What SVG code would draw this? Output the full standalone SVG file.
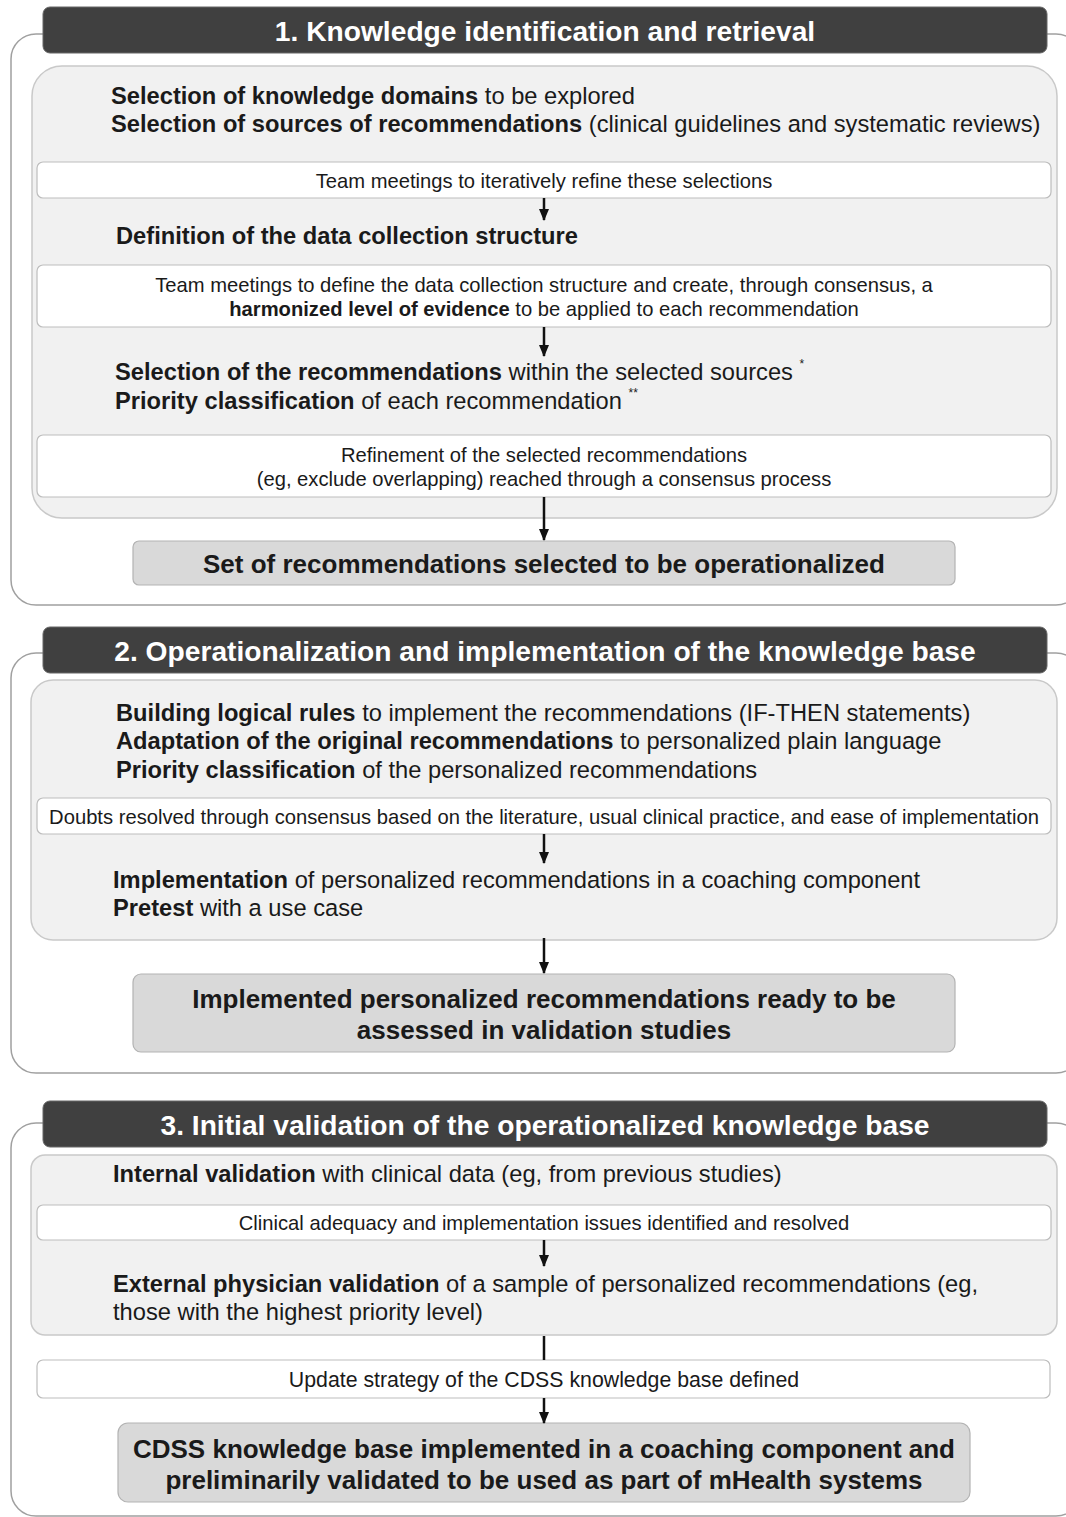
<svg xmlns="http://www.w3.org/2000/svg" width="1066" height="1517" viewBox="0 0 1066 1517">
<defs>
<marker id="ah" markerWidth="12" markerHeight="10" refX="11" refY="5" orient="auto" markerUnits="userSpaceOnUse" viewBox="0 0 12 10">
<path d="M0,0 L12,5 L0,10 Z" fill="#111"/>
</marker>
<style>
text{font-family:"Liberation Sans",Arial,sans-serif;fill:#1a1a1a}
.outer{fill:none;stroke:#a0a0a0;stroke-width:1.5}
.hdr{fill:#404040;stroke:#666;stroke-width:1}
.hdrt{fill:#fff;font-size:28.2px;font-weight:bold;text-anchor:middle}
.panel{fill:#f1f1f1;stroke:#c9c9c9;stroke-width:1.5}
.wbox{fill:#fff;stroke:#bdbdbd;stroke-width:1.2}
.wt{font-size:20.2px;text-anchor:middle}
.body{font-size:23.7px}
.b{font-weight:bold}
.res{fill:#d9d9d9;stroke:#b3b3b3;stroke-width:1.2}
.rt{font-size:26px;font-weight:bold;text-anchor:middle}
.sup{font-size:12px}
.arr{stroke:#111;stroke-width:2.5;fill:none}
</style>
</defs>

<g id="section1">
<rect class="outer" x="11" y="34" width="1070" height="571" rx="25"/>
<g id="header1"><rect class="hdr" x="43" y="7" width="1004" height="46" rx="7"/><text class="hdrt" x="545" y="41">1. Knowledge identification and retrieval</text></g>
<g id="panel1"><rect class="panel" x="32" y="66" width="1025" height="452" rx="30"/>
<text class="body" x="111" y="104"><tspan class="b">Selection of knowledge domains</tspan> to be explored</text>
<text class="body" x="111" y="132"><tspan class="b">Selection of sources of recommendations</tspan> (clinical guidelines and systematic reviews)</text>
<text class="body" x="116" y="244"><tspan class="b">Definition of the data collection structure</tspan></text>
<text class="body" x="115" y="380"><tspan class="b">Selection of the recommendations</tspan> within the selected sources <tspan class="sup" dy="-12">*</tspan></text>
<text class="body" x="115" y="409"><tspan class="b">Priority classification</tspan> of each recommendation <tspan class="sup" dy="-12">**</tspan></text>
</g>
<g id="box1a"><rect class="wbox" x="37" y="162" width="1014" height="36" rx="6"/><text class="wt" x="544" y="188">Team meetings to iteratively refine these selections</text></g>
<g id="box1b"><rect class="wbox" x="37" y="265" width="1014" height="62" rx="6"/><text class="wt" x="544" y="292">Team meetings to define the data collection structure and create, through consensus, a</text><text class="wt" x="544" y="316"><tspan class="b">harmonized level of evidence</tspan> to be applied to each recommendation</text></g>
<g id="box1c"><rect class="wbox" x="37" y="435" width="1014" height="62" rx="6"/><text class="wt" x="544" y="462">Refinement of the selected recommendations</text><text class="wt" x="544" y="486">(eg, exclude overlapping) reached through a consensus process</text></g>
<g id="result1"><rect class="res" x="133" y="541" width="822" height="44" rx="6"/><text class="rt" x="544" y="573">Set of recommendations selected to be operationalized</text></g>
</g>

<g id="section2">
<rect class="outer" x="11" y="653" width="1070" height="420" rx="25"/>
<g id="header2"><rect class="hdr" x="43" y="627" width="1004" height="46" rx="7"/><text class="hdrt" x="545" y="661">2. Operationalization and implementation of the knowledge base</text></g>
<g id="panel2"><rect class="panel" x="31" y="680" width="1026" height="260" rx="22"/>
<text class="body" x="116" y="721"><tspan class="b">Building logical rules</tspan> to implement the recommendations (IF-THEN statements)</text>
<text class="body" x="116" y="749"><tspan class="b">Adaptation of the original recommendations</tspan> to personalized plain language</text>
<text class="body" x="116" y="778"><tspan class="b">Priority classification</tspan> of the personalized recommendations</text>
<text class="body" x="113" y="888"><tspan class="b">Implementation</tspan> of personalized recommendations in a coaching component</text>
<text class="body" x="113" y="916"><tspan class="b">Pretest</tspan> with a use case</text>
</g>
<g id="box2a"><rect class="wbox" x="37" y="798" width="1014" height="36" rx="6"/><text class="wt" x="544" y="824">Doubts resolved through consensus based on the literature, usual clinical practice, and ease of implementation</text></g>
<g id="result2"><rect class="res" x="133" y="974" width="822" height="78" rx="8"/><text class="rt" x="544" y="1008">Implemented personalized recommendations ready to be</text><text class="rt" x="544" y="1039">assessed in validation studies</text></g>
</g>

<g id="section3">
<rect class="outer" x="11" y="1123" width="1070" height="393" rx="25"/>
<g id="header3"><rect class="hdr" x="43" y="1101" width="1004" height="46" rx="7"/><text class="hdrt" x="545" y="1135">3. Initial validation of the operationalized knowledge base</text></g>
<g id="panel3"><rect class="panel" x="31" y="1155" width="1026" height="180" rx="14"/>
<text class="body" x="113" y="1182"><tspan class="b">Internal validation</tspan> with clinical data (eg, from previous studies)</text>
<text class="body" x="113" y="1292"><tspan class="b">External physician validation</tspan> of a sample of personalized recommendations (eg,</text>
<text class="body" x="113" y="1320">those with the highest priority level)</text>
</g>
<g id="box3a"><rect class="wbox" x="37" y="1205" width="1014" height="35" rx="6"/><text class="wt" x="544" y="1230">Clinical adequacy and implementation issues identified and resolved</text></g>
<g id="box3b"><rect class="wbox" x="37" y="1360" width="1013" height="38" rx="6"/><text class="wt" x="544" y="1387" style="font-size:21.3px">Update strategy of the CDSS knowledge base defined</text></g>
<g id="result3"><rect class="res" x="118" y="1423" width="852" height="79" rx="10"/><text class="rt" x="544" y="1458">CDSS knowledge base implemented in a coaching component and</text><text class="rt" x="544" y="1489">preliminarily validated to be used as part of mHealth systems</text></g>
</g>

<g id="connectors">
<line class="arr" x1="544" y1="198" x2="544" y2="220" marker-end="url(#ah)"/>
<line class="arr" x1="544" y1="327" x2="544" y2="356" marker-end="url(#ah)"/>
<line class="arr" x1="544" y1="497" x2="544" y2="540" marker-end="url(#ah)"/>
<line class="arr" x1="544" y1="834" x2="544" y2="863" marker-end="url(#ah)"/>
<line class="arr" x1="544" y1="938" x2="544" y2="973" marker-end="url(#ah)"/>
<line class="arr" x1="544" y1="1240" x2="544" y2="1266" marker-end="url(#ah)"/>
<line class="arr" x1="544" y1="1336" x2="544" y2="1360"/>
<line class="arr" x1="544" y1="1398" x2="544" y2="1423" marker-end="url(#ah)"/>
</g>
</svg>
